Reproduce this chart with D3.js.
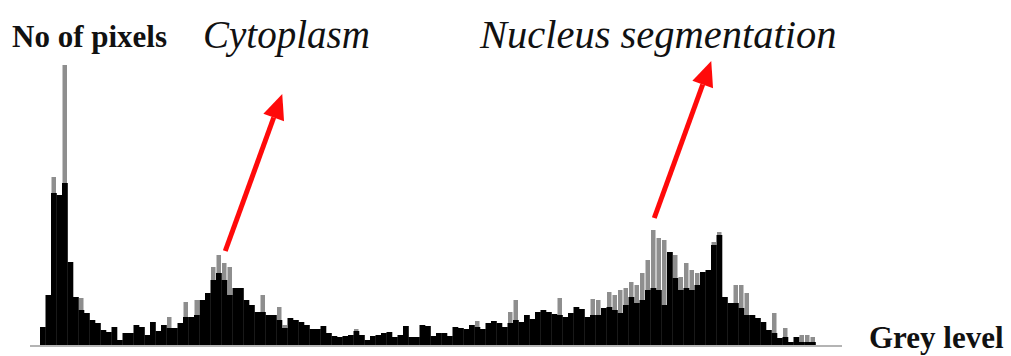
<!DOCTYPE html>
<html>
<head>
<meta charset="utf-8">
<script src="https://cdn.jsdelivr.net/npm/d3@7"></script>
<style>
  html, body { margin: 0; padding: 0; background: #fff; }
  svg { display: block; }
</style>
</head>
<body>
<div id="chart"></div>
<script>
// histogram bins (grey level bins, left to right), counts
var blackCounts = [
  18, 50, 152, 150, 162, 83, 48, 35, 32, 25, 22, 15, 13, 18, 5, 12, 12, 20, 18, 10,
  23, 14, 20, 17, 17, 22, 28, 28, 30, 45, 52, 65, 72, 65, 50, 57, 57, 45, 40, 33,
  33, 30, 30, 25, 17, 27, 25, 23, 20, 16, 16, 19, 12, 9, 8, 9, 10, 14, 10, 5,
  9, 10, 12, 13, 8, 10, 19, 8, 8, 20, 19, 9, 12, 12, 9, 18, 17, 16, 20, 18,
  16, 22, 24, 22, 18, 22, 25, 23, 30, 26, 33, 35, 33, 31, 30, 28, 32, 38, 36, 28,
  30, 30, 37, 38, 35, 32, 40, 48, 42, 45, 55, 57, 55, 40, 93, 67, 55, 57, 55, 60,
  73, 75, 100, 110, 48, 42, 42, 37, 30, 30, 27, 23, 15, 12, 7, 8, 3, 8, 3, 3,
  3
];
// lighter (grey) spikes above the black part, 0 = none
var greyCounts = [
  0, 0, 168, 0, 280, 0, 0, 47, 0, 0, 0, 0, 0, 0, 0, 0, 0, 0, 0, 0,
  0, 0, 0, 28, 0, 0, 43, 0, 45, 0, 0, 78, 90, 82, 78, 0, 0, 0, 0, 0,
  50, 0, 0, 38, 20, 0, 0, 0, 0, 0, 0, 0, 0, 0, 0, 0, 0, 16, 0, 0,
  0, 0, 0, 0, 0, 0, 0, 0, 0, 0, 0, 0, 0, 0, 0, 0, 0, 0, 0, 24,
  0, 0, 0, 0, 0, 33, 45, 0, 0, 0, 0, 0, 0, 0, 47, 0, 0, 0, 0, 0,
  46, 45, 0, 53, 50, 55, 57, 63, 60, 72, 85, 115, 107, 105, 0, 90, 68, 82, 75, 72,
  0, 0, 103, 113, 0, 0, 60, 60, 52, 0, 0, 0, 0, 32, 0, 17, 0, 0, 10, 10,
  8
];
var labels = ["No of pixels", "Cytoplasm", "Nucleus segmentation", "Grey level"];
// bins the arrows point away from
var arrowBins = [33, 111];

var width = 1011, height = 356;
var serif = "'Liberation Serif', 'Times New Roman', Times, serif";

var svg = d3.select("#chart").append("svg")
  .attr("width", width)
  .attr("height", height);

// the source picture is a bit soft
svg.append("defs").append("filter")
  .attr("id", "soft")
  .append("feGaussianBlur")
  .attr("stdDeviation", 0.6);

var x = d3.scaleLinear()
  .domain([0, blackCounts.length])
  .range([40, 815.5]);

var y = d3.scaleLinear()
  .domain([0, 280])
  .range([345, 65]);

var bins = d3.range(blackCounts.length);
var bw = x(1) - x(0);

var hist = svg.append("g").attr("filter", "url(#soft)");

// grey spikes behind
hist.append("g").selectAll("rect")
  .data(bins.filter(function(i) { return greyCounts[i] > 0; }))
  .enter().append("rect")
  .attr("x", function(i) { return x(i) + 0.5; })
  .attr("width", bw - 1)
  .attr("y", function(i) { return y(greyCounts[i]); })
  .attr("height", function(i) { return y(0) - y(greyCounts[i]); })
  .attr("fill", "#8e8e8e");

// black body
hist.append("g").selectAll("rect")
  .data(bins)
  .enter().append("rect")
  .attr("x", function(i) { return x(i); })
  .attr("width", bw + 0.3)
  .attr("y", function(i) { return y(blackCounts[i]); })
  .attr("height", function(i) { return y(0) - y(blackCounts[i]); })
  .attr("fill", "#000");

// base line
svg.append("line")
  .attr("x1", 30).attr("x2", 842)
  .attr("y1", y(0) + 1).attr("y2", y(0) + 1)
  .attr("stroke", "#b4b4b4")
  .attr("stroke-width", 2);

// red arrows
var red = "#ff0a0a";
arrowBins.forEach(function(b) {
  var peak = Math.max(blackCounts[b], greyCounts[b]);
  var x0 = x(b + 0.5) + 1, y0 = y(peak) - 12;
  var x1 = x0 + 57, y1 = y0 - 157;
  var ang = Math.atan2(y1 - y0, x1 - x0);
  var hl = 25, hw = 11;
  var bx = x1 - hl * Math.cos(ang), by = y1 - hl * Math.sin(ang);
  svg.append("line")
    .attr("x1", x0).attr("y1", y0)
    .attr("x2", bx).attr("y2", by)
    .attr("stroke", red)
    .attr("stroke-width", 5);
  svg.append("path")
    .attr("d", "M" + x1 + "," + y1 +
      "L" + (bx + hw * Math.sin(ang)) + "," + (by - hw * Math.cos(ang)) +
      "L" + (bx - hw * Math.sin(ang)) + "," + (by + hw * Math.cos(ang)) + "Z")
    .attr("fill", red);
});

// texts
svg.append("text")
  .attr("x", 12).attr("y", 47)
  .attr("font-family", serif)
  .attr("font-weight", "bold")
  .attr("font-size", 31)
  .attr("fill", "#111")
  .text(labels[0]);

svg.append("text")
  .attr("x", 203).attr("y", 48)
  .attr("font-family", serif)
  .attr("font-style", "italic")
  .attr("font-size", 39)
  .attr("fill", "#111")
  .text(labels[1]);

svg.append("text")
  .attr("x", 480).attr("y", 48)
  .attr("font-family", serif)
  .attr("font-style", "italic")
  .attr("font-size", 40.5)
  .attr("fill", "#111")
  .text(labels[2]);

svg.append("text")
  .attr("x", 869).attr("y", 348)
  .attr("font-family", serif)
  .attr("font-weight", "bold")
  .attr("font-size", 31)
  .attr("fill", "#111")
  .text(labels[3]);
</script>
</body>
</html>
